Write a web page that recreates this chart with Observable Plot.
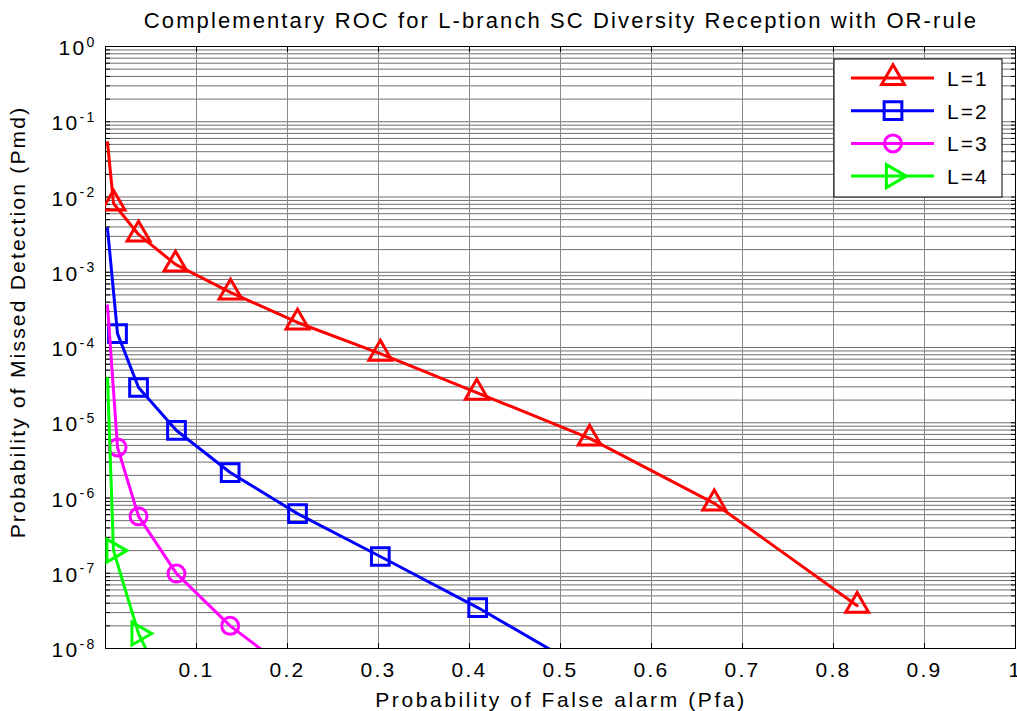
<!DOCTYPE html>
<html>
<head>
<meta charset="utf-8">
<script src="https://cdn.jsdelivr.net/npm/d3@7"></script>
<script src="https://cdn.jsdelivr.net/npm/@observablehq/plot@0.6"></script>
<style>
  html, body { margin: 0; padding: 0; background: #fff; }
  #chart svg { display: block; overflow: visible; }
</style>
</head>
<body>
<div id="chart"></div>
<script>
// ---- data ----
const seriesNames = ["L=1", "L=2", "L=3", "L=4"];
const seriesColors = ["#ff0000", "#0000ff", "#ff00ff", "#00ff00"];
const seriesSymbols = ["triangle", "square", "circle", "triangle"];
const seriesRotate = [0, 0, 0, 90];

// Pfa / Pmd per series (first point = curve start, no marker)
const pfaL1 = [0.0022, 0.0088, 0.0363, 0.0769, 0.1374, 0.211, 0.302, 0.408, 0.532, 0.669, 0.826];
const pmdL1 = [5.3e-2, 8.2e-3, 3.18e-3, 1.27e-3, 5.4e-4, 2.15e-4, 8.3e-5, 2.52e-5, 6.2e-6, 8.5e-7, 3.7e-8];
const pfaL2 = [0.0022, 0.0132, 0.0363, 0.078, 0.137, 0.211, 0.302, 0.409, 0.531];
const pmdL2 = [3.8e-3, 1.53e-4, 2.94e-5, 7.9e-6, 2.18e-6, 6.2e-7, 1.67e-7, 3.5e-8, 4.9e-9];
const pfaL3 = [0.0022, 0.0132, 0.0363, 0.078, 0.137, 0.211];
const pmdL3 = [3.6e-4, 4.7e-6, 5.7e-7, 9.9e-8, 2.0e-8, 4.2e-9];
const pfaL4 = [0.0022, 0.0088, 0.0363, 0.0769];
const pmdL4 = [3.9e-5, 2.0e-7, 1.58e-8, 1.5e-9];

const xTicks = [0.1, 0.2, 0.3, 0.4, 0.5, 0.6, 0.7, 0.8, 0.9, 1];
const xTickLabels = ["0.1", "0.2", "0.3", "0.4", "0.5", "0.6", "0.7", "0.8", "0.9", "1"];
const yExponents = [-8, -7, -6, -5, -4, -3, -2, -1, 0];
const yMinorMultipliers = [1, 2, 3, 4, 5, 6, 7, 8, 9];

const titleText = "Complementary ROC for L-branch SC Diversity Reception with OR-rule";
const xLabelText = "Probability of False alarm (Pfa)";
const yLabelText = "Probability of Missed Detection (Pmd)";

// ---- build tables ----
const pfaAll = [pfaL1, pfaL2, pfaL3, pfaL4];
const pmdAll = [pmdL1, pmdL2, pmdL3, pmdL4];
const rows = [];
seriesNames.forEach((name, s) => {
  pfaAll[s].forEach((x, i) => rows.push({series: name, s, i, pfa: x, pmd: pmdAll[s][i]}));
});
const yMajor = yExponents.map(e => Math.pow(10, e));
const yMinor = [];
yExponents.slice(0, -1).forEach(e => yMinorMultipliers.forEach(m => yMinor.push(m * Math.pow(10, e))));
yMinor.push(1);

const FONT = "'Liberation Sans', Arial, Helvetica, sans-serif";
const LS = "2.3px";
const blank = () => "";

const marks = [
  Plot.ruleY(yMinor, {stroke: "#6e6e6e", strokeWidth: 1}),
  Plot.ruleX(xTicks.slice(0, -1), {stroke: "#8a8a8a", strokeWidth: 1}),
  // inward ticks
  Plot.axisX({anchor: "bottom", ticks: xTicks, tickSize: -5, tickFormat: d => xTickLabels[xTicks.indexOf(d)], tickPadding: 19, fontSize: 21, label: null}),
  Plot.axisX({anchor: "top", ticks: xTicks, tickSize: -5, tickFormat: blank, label: null}),
  Plot.axisY({anchor: "left", ticks: yMinor, tickSize: -5, tickFormat: blank, label: null}),
  Plot.axisY({anchor: "right", ticks: yMinor, tickSize: -5, tickFormat: blank, label: null}),
  Plot.axisY({anchor: "left", ticks: yMajor, tickSize: 0, tickPadding: 9, dy: 2,
    tickFormat: d => "10^" + Math.round(Math.log10(d)), fontSize: 21, label: null}),
  Plot.frame({stroke: "#000", strokeWidth: 1}),
];
seriesNames.forEach((name, s) => {
  const data = rows.filter(r => r.s === s);
  marks.push(Plot.line(data, {x: "pfa", y: "pmd", stroke: seriesColors[s], strokeWidth: 3, clip: true}));
  marks.push(Plot.dot(data.filter(r => r.i > 0), {
    x: "pfa", y: "pmd", symbol: seriesSymbols[s], rotate: seriesRotate[s],
    r: s === 1 ? 10 : 8.5, stroke: seriesColors[s], strokeWidth: 3, fill: "none", clip: true
  }));
});

const chart = Plot.plot({
  width: 1017,
  height: 711,
  marginLeft: 105,
  marginRight: 2,
  marginTop: 46,
  marginBottom: 63,
  style: {fontFamily: FONT, fontSize: "21px", color: "#000", background: "#fff", letterSpacing: LS},
  x: {domain: [0, 1], label: null},
  y: {type: "log", domain: [1e-8, 1], label: null},
  marks
});
document.getElementById("chart").appendChild(chart);

const svg = d3.select(chart);
// superscript exponents for log ticks
svg.selectAll("text").each(function() {
  const t = d3.select(this);
  const s = t.text();
  if (!s.startsWith("10^")) return;
  const e = s.slice(3);
  t.text("10");
  t.append("tspan").attr("dy", "-0.62em").attr("font-size", "14px").text(e);
});

// title and axis labels
svg.append("text").attr("x", 561).attr("y", 28).attr("text-anchor", "middle")
  .attr("font-size", 22).attr("font-family", FONT).attr("letter-spacing", "2.1px").text(titleText);
svg.append("text").attr("x", 561).attr("y", 707).attr("text-anchor", "middle")
  .attr("font-size", 21).attr("font-family", FONT).attr("letter-spacing", "2.6px").text(xLabelText);
svg.append("text").attr("transform", "translate(25,322) rotate(-90)").attr("text-anchor", "middle")
  .attr("font-size", 21).attr("font-family", FONT).attr("letter-spacing", "2.2px").text(yLabelText);

// legend
const lg = svg.append("g");
lg.append("rect").attr("x", 834).attr("y", 59).attr("width", 168).attr("height", 138)
  .attr("fill", "#fff").attr("stroke", "#000").attr("stroke-width", 1);
const symMap = {triangle: d3.symbolTriangle, square: d3.symbolSquare, circle: d3.symbolCircle};
seriesNames.forEach((name, s) => {
  const yy = 78 + s * 32.7;
  lg.append("line").attr("x1", 851).attr("x2", 934).attr("y1", yy).attr("y2", yy)
    .attr("stroke", seriesColors[s]).attr("stroke-width", 3);
  const r = s === 1 ? 10 : 8.5;
  lg.append("path").attr("d", d3.symbol(symMap[seriesSymbols[s]], Math.PI * r * r)())
    .attr("transform", `translate(893,${yy}) rotate(${seriesRotate[s]})`)
    .attr("fill", "none").attr("stroke", seriesColors[s]).attr("stroke-width", 3);
  lg.append("text").attr("x", 947).attr("y", yy + 8).attr("font-size", 21).attr("text-anchor", "start")
    .attr("font-family", FONT).attr("letter-spacing", "2px").text(name);
});
</script>
</body>
</html>
